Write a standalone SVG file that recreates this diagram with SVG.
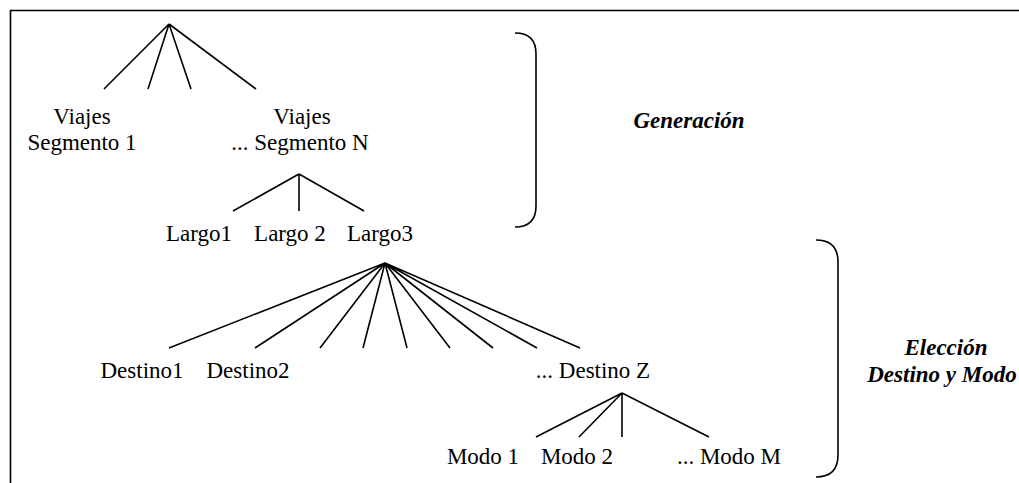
<svg xmlns="http://www.w3.org/2000/svg" width="1019" height="483" viewBox="0 0 1019 483">
<style>
.t{font-family:"Liberation Serif","Times New Roman",serif;font-size:23px;fill:#000;text-anchor:middle}
.b{font-family:"Liberation Serif","Times New Roman",serif;font-size:23px;font-weight:bold;font-style:italic;fill:#000;text-anchor:middle}
.ln{stroke:#000;stroke-width:1.6;fill:none;stroke-linecap:butt}
</style>
<rect width="1019" height="483" fill="#fff"/>
<g id="frame"><path class="ln" d="M10.5,483 L10.5,10.5 L1019,10.5" stroke-width="1.8"/></g>
<g id="connectors">
<path class="ln" d="M169,24 L104,89 M169,24 L148,89 M169,24 L191,89 M169,24 L256,89"/>
<path class="ln" d="M299,174 L233,211 M299,174 L299,211 M299,174 L364,211"/>
<path class="ln" d="M385,263 L169,348 M385,263 L255,348 M385,263 L320,348 M385,263 L363,348 M385,263 L407,348 M385,263 L450,348 M385,263 L493,348 M385,263 L537,348 M385,263 L580,348"/>
<path class="ln" d="M622,393 L536,437 M622,393 L579,437 M622,393 L622,437 M622,393 L709,437"/>
</g>
<g id="viajes1"><text class="t" x="82" y="124">Viajes</text><text class="t" x="82" y="150">Segmento 1</text></g>
<g id="viajesN"><text class="t" x="302" y="124">Viajes</text><text class="t" x="300" y="150">... Segmento N</text></g>
<g id="largo1"><text class="t" x="199" y="241">Largo1</text></g>
<g id="largo2"><text class="t" x="290" y="241">Largo 2</text></g>
<g id="largo3"><text class="t" x="380" y="241">Largo3</text></g>
<g id="destino1"><text class="t" x="142" y="378">Destino1</text></g>
<g id="destino2"><text class="t" x="248" y="378">Destino2</text></g>
<g id="destinoZ"><text class="t" x="593" y="378">... Destino Z</text></g>
<g id="modo1"><text class="t" x="483" y="464">Modo 1</text></g>
<g id="modo2"><text class="t" x="577" y="464">Modo 2</text></g>
<g id="modoM"><text class="t" x="729" y="464">... Modo M</text></g>
<g id="generacion">
<path class="ln" d="M515,33 Q536,33 536,54 L536,206 Q536,227 515,227"/>
<text class="b" x="689" y="128">Generación</text>
</g>
<g id="eleccion">
<path class="ln" d="M816,240 Q838,240 838,262 L838,455 Q838,477 816,477"/>
<text class="b" x="946" y="355">Elección</text>
<text class="b" x="942" y="382">Destino y Modo</text>
</g>
</svg>
